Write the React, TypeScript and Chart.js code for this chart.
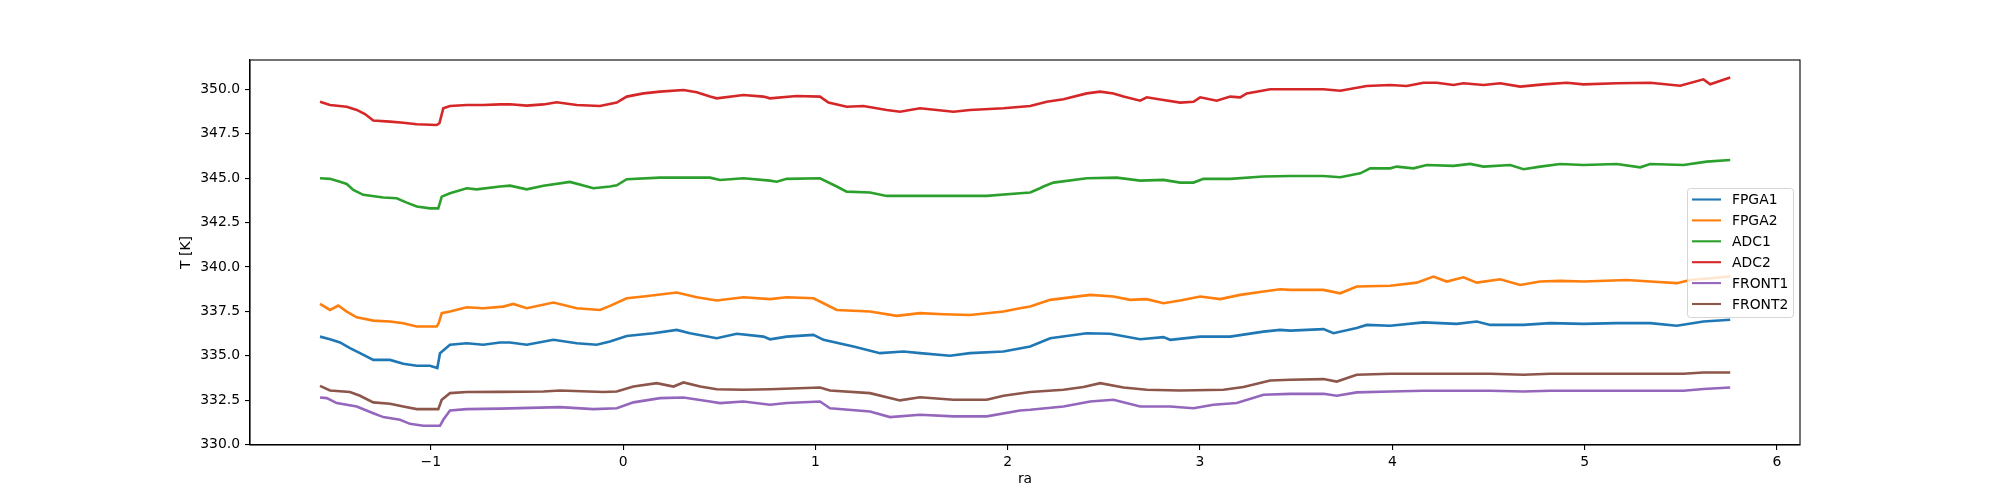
import React, { useEffect, useRef } from 'react';
import { Chart, registerables } from 'chart.js';

Chart.register(...registerables);

const seriesLabels = ['FPGA1', 'FPGA2', 'ADC1', 'ADC2', 'FRONT1', 'FRONT2'];
const seriesColors = ['#1f77b4', '#ff7f0e', '#2ca02c', '#d62728', '#9467bd', '#8c564b'];
const xTicks = [-1, 0, 1, 2, 3, 4, 5, 6];
const yTicks = [330, 332.5, 335, 337.5, 340, 342.5, 345, 347.5, 350];
const xLabel = 'ra';
const yLabel = 'T [K]';

const fpga1: [number, number][] = [[-1.576,336.08],[-1.524,335.93],[-1.472,335.75],[-1.420,335.43],[-1.368,335.15],[-1.299,334.77],[-1.212,334.77],[-1.143,334.55],[-1.073,334.44],[-1.004,334.44],[-0.966,334.31],[-0.952,335.15],[-0.900,335.62],[-0.813,335.71],[-0.727,335.62],[-0.640,335.75],[-0.588,335.75],[-0.501,335.62],[-0.362,335.90],[-0.241,335.71],[-0.137,335.62],[-0.068,335.80],[0.019,336.12],[0.158,336.27],[0.279,336.46],[0.348,336.27],[0.487,335.99],[0.591,336.24],[0.730,336.08],[0.764,335.93],[0.851,336.08],[0.990,336.18],[1.042,335.90],[1.198,335.52],[1.336,335.15],[1.458,335.24],[1.544,335.15],[1.700,335.00],[1.804,335.15],[1.978,335.24],[2.117,335.52],[2.221,335.99],[2.411,336.27],[2.533,336.24],[2.689,335.93],[2.810,336.05],[2.845,335.90],[3.001,336.08],[3.157,336.08],[3.330,336.36],[3.417,336.46],[3.469,336.42],[3.642,336.50],[3.694,336.27],[3.815,336.56],[3.867,336.74],[3.989,336.69],[4.162,336.88],[4.335,336.80],[4.439,336.93],[4.509,336.74],[4.682,336.74],[4.821,336.84],[4.994,336.80],[5.167,336.84],[5.341,336.84],[5.479,336.69],[5.618,336.93],[5.757,337.03]];

const fpga2: [number, number][] = [[-1.576,337.92],[-1.524,337.58],[-1.481,337.83],[-1.437,337.49],[-1.385,337.17],[-1.299,336.98],[-1.212,336.93],[-1.143,336.83],[-1.073,336.65],[-0.969,336.65],[-0.959,336.83],[-0.943,337.40],[-0.900,337.49],[-0.813,337.73],[-0.727,337.68],[-0.623,337.77],[-0.571,337.92],[-0.501,337.68],[-0.362,338.00],[-0.241,337.68],[-0.120,337.58],[-0.068,337.81],[0.019,338.24],[0.106,338.34],[0.279,338.56],[0.383,338.30],[0.487,338.11],[0.626,338.30],[0.764,338.19],[0.851,338.30],[0.990,338.24],[1.042,337.96],[1.111,337.58],[1.284,337.49],[1.423,337.25],[1.544,337.40],[1.666,337.34],[1.804,337.30],[1.978,337.49],[2.064,337.68],[2.117,337.77],[2.221,338.15],[2.429,338.43],[2.550,338.34],[2.637,338.15],[2.723,338.19],[2.810,337.96],[2.897,338.11],[3.001,338.34],[3.105,338.19],[3.209,338.43],[3.330,338.62],[3.417,338.75],[3.469,338.71],[3.642,338.71],[3.729,338.52],[3.815,338.90],[3.989,338.94],[4.127,339.12],[4.214,339.46],[4.283,339.18],[4.370,339.42],[4.439,339.12],[4.561,339.31],[4.665,338.99],[4.769,339.18],[4.873,339.22],[4.994,339.18],[5.219,339.27],[5.341,339.18],[5.479,339.09],[5.549,339.27],[5.757,339.46]];

const adc1: [number, number][] = [[-1.576,344.99],[-1.524,344.96],[-1.472,344.80],[-1.437,344.67],[-1.403,344.34],[-1.351,344.06],[-1.247,343.91],[-1.177,343.87],[-1.125,343.62],[-1.073,343.40],[-1.004,343.30],[-0.961,343.30],[-0.943,343.96],[-0.900,344.15],[-0.813,344.43],[-0.761,344.37],[-0.640,344.53],[-0.588,344.58],[-0.501,344.37],[-0.414,344.57],[-0.276,344.79],[-0.154,344.43],[-0.068,344.53],[-0.033,344.60],[0.019,344.94],[0.192,345.03],[0.452,345.03],[0.504,344.90],[0.626,344.99],[0.764,344.86],[0.799,344.80],[0.851,344.96],[1.024,344.99],[1.111,344.53],[1.163,344.24],[1.284,344.19],[1.371,344.00],[1.631,344.00],[1.891,344.00],[2.064,344.15],[2.117,344.19],[2.168,344.43],[2.186,344.53],[2.238,344.75],[2.411,344.99],[2.567,345.03],[2.689,344.86],[2.810,344.90],[2.897,344.75],[2.966,344.75],[3.018,344.96],[3.157,344.96],[3.330,345.09],[3.469,345.12],[3.642,345.12],[3.729,345.05],[3.833,345.27],[3.885,345.55],[3.989,345.55],[4.023,345.65],[4.110,345.55],[4.179,345.74],[4.318,345.69],[4.405,345.80],[4.474,345.65],[4.613,345.74],[4.682,345.50],[4.769,345.65],[4.873,345.80],[4.994,345.74],[5.167,345.80],[5.289,345.61],[5.341,345.80],[5.514,345.74],[5.635,345.93],[5.757,346.02]];

const adc2: [number, number][] = [[-1.576,349.30],[-1.524,349.12],[-1.437,349.02],[-1.385,348.84],[-1.342,348.61],[-1.299,348.24],[-1.212,348.18],[-1.143,348.12],[-1.073,348.03],[-0.969,347.99],[-0.955,348.09],[-0.935,348.93],[-0.900,349.06],[-0.813,349.12],[-0.727,349.12],[-0.640,349.15],[-0.588,349.16],[-0.501,349.08],[-0.414,349.15],[-0.345,349.27],[-0.241,349.12],[-0.120,349.06],[-0.033,349.25],[0.019,349.59],[0.106,349.77],[0.192,349.87],[0.314,349.96],[0.383,349.83],[0.452,349.59],[0.487,349.49],[0.626,349.68],[0.730,349.59],[0.764,349.49],[0.903,349.62],[1.024,349.59],[1.068,349.25],[1.163,349.02],[1.250,349.06],[1.371,348.84],[1.440,348.74],[1.544,348.93],[1.718,348.74],[1.804,348.84],[1.978,348.93],[2.117,349.06],[2.203,349.30],[2.290,349.44],[2.411,349.77],[2.481,349.87],[2.550,349.77],[2.602,349.59],[2.689,349.36],[2.723,349.55],[2.810,349.40],[2.897,349.25],[2.966,349.30],[3.001,349.55],[3.087,349.36],[3.157,349.59],[3.209,349.55],[3.243,349.77],[3.365,350.00],[3.469,350.00],[3.642,350.00],[3.729,349.92],[3.867,350.19],[3.989,350.24],[4.075,350.19],[4.162,350.37],[4.231,350.37],[4.318,350.24],[4.370,350.34],[4.474,350.24],[4.561,350.34],[4.665,350.15],[4.786,350.28],[4.907,350.37],[4.994,350.28],[5.167,350.34],[5.341,350.37],[5.497,350.20],[5.618,350.56],[5.653,350.28],[5.757,350.67]];

const front1: [number, number][] = [[-1.576,332.65],[-1.541,332.62],[-1.489,332.34],[-1.385,332.15],[-1.299,331.77],[-1.247,331.55],[-1.160,331.40],[-1.108,331.17],[-1.039,331.06],[-0.952,331.06],[-0.935,331.40],[-0.900,331.92],[-0.813,332.00],[-0.640,332.03],[-0.328,332.11],[-0.154,332.00],[-0.033,332.05],[0.054,332.38],[0.192,332.62],[0.314,332.65],[0.452,332.43],[0.504,332.34],[0.626,332.43],[0.764,332.25],[0.851,332.34],[1.024,332.43],[1.076,332.05],[1.284,331.87],[1.388,331.55],[1.544,331.68],[1.718,331.59],[1.891,331.59],[2.064,331.92],[2.117,331.96],[2.290,332.15],[2.429,332.43],[2.550,332.53],[2.689,332.15],[2.845,332.15],[2.966,332.05],[3.070,332.25],[3.191,332.34],[3.330,332.81],[3.469,332.86],[3.642,332.86],[3.711,332.75],[3.815,332.94],[3.989,332.99],[4.162,333.03],[4.509,333.03],[4.682,332.99],[4.821,333.03],[5.167,333.03],[5.514,333.03],[5.618,333.13],[5.757,333.22]];

const front2: [number, number][] = [[-1.576,333.31],[-1.524,333.05],[-1.420,332.96],[-1.368,332.75],[-1.299,332.38],[-1.212,332.30],[-1.143,332.15],[-1.073,332.00],[-0.961,332.00],[-0.943,332.53],[-0.900,332.90],[-0.813,332.96],[-0.640,332.97],[-0.414,332.99],[-0.328,333.05],[-0.102,332.96],[-0.033,332.99],[0.054,333.27],[0.175,333.46],[0.262,333.27],[0.314,333.50],[0.401,333.27],[0.487,333.12],[0.626,333.09],[0.764,333.12],[1.024,333.22],[1.076,333.05],[1.284,332.90],[1.440,332.49],[1.544,332.67],[1.718,332.53],[1.891,332.53],[1.978,332.75],[2.117,332.96],[2.290,333.09],[2.394,333.24],[2.481,333.46],[2.602,333.22],[2.723,333.09],[2.897,333.05],[3.122,333.09],[3.226,333.24],[3.365,333.61],[3.469,333.65],[3.642,333.69],[3.711,333.55],[3.815,333.93],[3.989,333.99],[4.162,333.99],[4.509,333.99],[4.682,333.93],[4.821,333.99],[5.167,333.99],[5.514,333.99],[5.618,334.06],[5.757,334.06]];

const seriesData = [fpga1, fpga2, adc1, adc2, front1, front2];

const FONT = '"DejaVu Sans", sans-serif';
const FONT_SIZE = 13.9;

const framePlugin = {
  id: 'mplFrame',
  afterDraw(chart: any) {
    const { ctx, chartArea } = chart;
    const { left, right, top, bottom } = chartArea;
    ctx.save();
    ctx.strokeStyle = '#000';
    ctx.lineWidth = 1.1;
    ctx.strokeRect(left, top, right - left, bottom - top);

    // legend (matplotlib style, centre right)
    const rowH = 20.9;
    const n = chart.data.datasets.length;
    const boxW = 106;
    const boxH = 129;
    const bx = right - 7 - boxW;
    const by = (top + bottom) / 2 - boxH / 2;
    ctx.beginPath();
    if (ctx.roundRect) ctx.roundRect(bx + 0.5, by + 0.5, boxW, boxH, 3);
    else ctx.rect(bx + 0.5, by + 0.5, boxW, boxH);
    ctx.fillStyle = 'rgba(255,255,255,0.8)';
    ctx.fill();
    ctx.strokeStyle = 'rgba(204,204,204,0.8)';
    ctx.lineWidth = 1;
    ctx.stroke();
    ctx.font = `${FONT_SIZE}px ${FONT}`;
    ctx.textBaseline = 'middle';
    ctx.textAlign = 'left';
    for (let i = 0; i < n; i++) {
      const ds = chart.data.datasets[i];
      const y = by + 11.5 + i * rowH;
      ctx.strokeStyle = ds.borderColor;
      ctx.lineWidth = 2.1;
      ctx.beginPath();
      ctx.moveTo(bx + 5, y);
      ctx.lineTo(bx + 34, y);
      ctx.stroke();
      ctx.fillStyle = '#000';
      ctx.fillText(ds.label, bx + 45, y + 1);
    }
    ctx.restore();
  },
};

export default function App() {
  const canvasRef = useRef<HTMLCanvasElement | null>(null);

  useEffect(() => {
    document.body.style.margin = '0';
    const canvas = canvasRef.current;
    if (!canvas) return;

    const datasets = seriesLabels.map((label, i) => ({
      label,
      data: seriesData[i].map(([x, y]) => ({ x, y })),
      borderColor: seriesColors[i],
      backgroundColor: seriesColors[i],
      borderWidth: 2.6,
      pointRadius: 0,
      tension: 0,
      fill: false,
    }));

    const chart = new Chart(canvas, {
      type: 'line',
      data: { datasets },
      plugins: [framePlugin],
      options: {
        animation: false,
        responsive: false,
        devicePixelRatio: 1,
        parsing: true,
        layout: { padding: { left: 174, right: 200, top: 60, bottom: 8 } },
        plugins: {
          legend: { display: false },
          tooltip: { enabled: false },
        },
        scales: {
          x: {
            type: 'linear',
            min: -1.94,
            max: 6.12,
            afterBuildTicks: (scale: any) => {
              scale.ticks = xTicks.map((v) => ({ value: v }));
            },
            afterFit: (scale: any) => {
              scale.height = 47;
            },
            ticks: {
              color: '#000',
              font: { family: FONT, size: FONT_SIZE },
              padding: 4,
              maxRotation: 0,
              autoSkip: false,
              callback: (v: any) => String(v).replace('-', '\u2212'),
            },
            grid: {
              drawOnChartArea: false,
              drawTicks: true,
              tickLength: 5,
              color: '#000',
              lineWidth: 1.1,
            },
            border: { display: true, color: '#000', width: 1.1 },
            title: {
              display: true,
              text: xLabel,
              color: '#000',
              font: { family: FONT, size: FONT_SIZE },
              padding: { top: 4, bottom: 4 },
            },
          },
          y: {
            type: 'linear',
            min: 329.98,
            max: 351.65,
            afterBuildTicks: (scale: any) => {
              scale.ticks = yTicks.map((v) => ({ value: v }));
            },
            afterFit: (scale: any) => {
              scale.width = 76;
            },
            ticks: {
              color: '#000',
              font: { family: FONT, size: FONT_SIZE },
              padding: 5,
              autoSkip: false,
              callback: (v: any) => Number(v).toFixed(1),
            },
            grid: {
              drawOnChartArea: false,
              drawTicks: true,
              tickLength: 5,
              color: '#000',
              lineWidth: 1.1,
            },
            border: { display: true, color: '#000', width: 1.1 },
            title: {
              display: true,
              text: yLabel,
              color: '#000',
              font: { family: FONT, size: FONT_SIZE },
              padding: { top: 4, bottom: 4 },
            },
          },
        },
      },
    } as any);

    return () => {
      chart.destroy();
    };
  }, []);

  return (
    <canvas
      ref={canvasRef}
      width={2000}
      height={500}
      style={{ display: 'block', width: '2000px', height: '500px' }}
    />
  );
}
